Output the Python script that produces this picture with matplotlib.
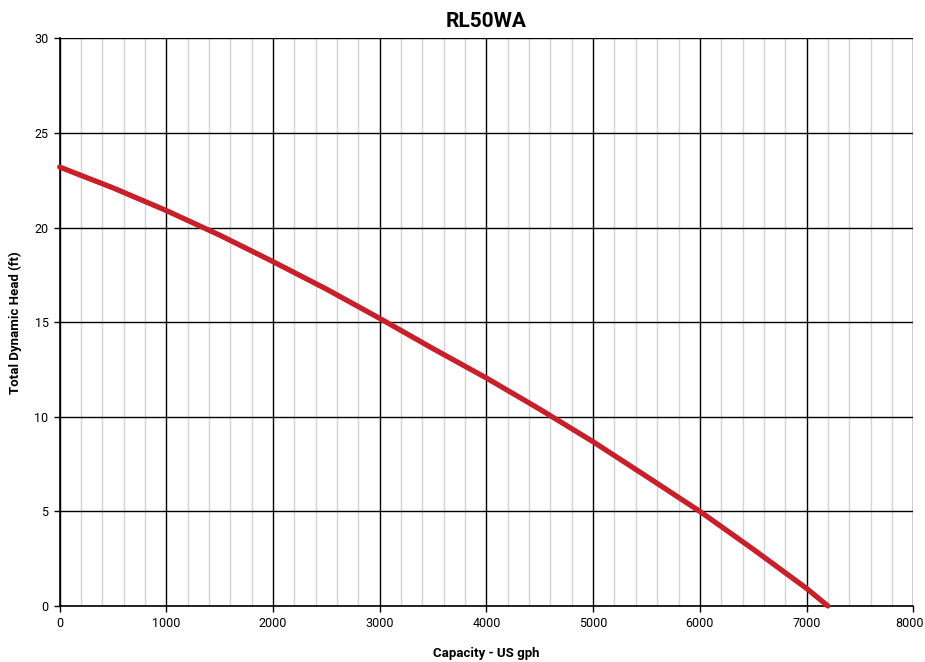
import numpy as np
import matplotlib.pyplot as plt
from matplotlib.transforms import ScaledTranslation

# Pump curve
capacity = [0, 500, 1000, 1500, 2000, 2500, 3000, 3500, 4000, 4500, 5000, 5500, 6000, 6500, 7000, 7200]
head = [23.2, 22.1, 20.9, 19.6, 18.2, 16.75, 15.2, 13.6, 12.05, 10.4, 8.68, 6.85, 5.0, 3.0, 0.93, 0.0]

x_ticks = [0, 1000, 2000, 3000, 4000, 5000, 6000, 7000, 8000]
y_ticks = [0, 5, 10, 15, 20, 25, 30]

plt.rcParams['font.family'] = ['Roboto', 'DejaVu Sans']

fig = plt.figure(figsize=(9.25, 6.62), dpi=100)
ax = fig.add_axes([0.0645, 0.0846, 0.9228, 0.8574])

ax.set_xlim(0, 8000)
ax.set_ylim(0, 30)
ax.set_xticks(x_ticks)
ax.set_xticks(np.arange(0, 8001, 200), minor=True)
ax.set_yticks(y_ticks)
ax.grid(which='minor', axis='x', color='#d4d4d4', lw=1)
ax.grid(which='major', color='black', lw=1)
ax.set_axisbelow(True)
ax.tick_params(which='minor', length=0)
ax.tick_params(which='major', length=4, width=1, labelsize=9, color='black', pad=4)

# keep the last x label inside the picture
last = ax.get_xticklabels()[-1]
last.set_transform(last.get_transform() + ScaledTranslation(-4 / 100, 0, fig.dpi_scale_trans))

for s in ['top', 'right']:
    ax.spines[s].set_visible(False)
for s in ['left', 'bottom']:
    ax.spines[s].set_linewidth(1.2)

ax.plot(capacity, head, color='#c8202a', lw=3.8, solid_capstyle='round',
        solid_joinstyle='round', clip_on=False, zorder=5)

ax.set_title('RL50WA', fontsize=15, fontweight='bold', pad=8)
ax.set_xlabel('Capacity - US gph', fontsize=9.5, fontweight='bold', labelpad=12)
ax.set_ylabel('Total Dynamic Head (ft)', fontsize=9.5, fontweight='bold', labelpad=9)

fig.savefig('out.png', dpi=100)
